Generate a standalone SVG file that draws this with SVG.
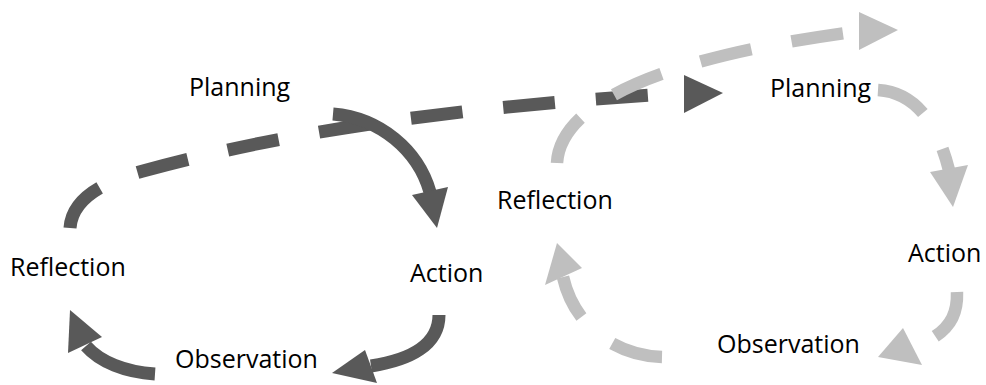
<svg xmlns="http://www.w3.org/2000/svg" width="986" height="385" viewBox="0 0 986 385">
<style>
.lbl{font-family:"Open Sans","Liberation Sans",sans-serif;font-size:25px;fill:#000}
.dk{fill:none;stroke:#595959;stroke-width:13}
.lt{fill:none;stroke:#BFBFBF;stroke-width:12.5}
.dash{stroke-dasharray:52 41}
.dkh{fill:#595959}
.lth{fill:#BFBFBF}
</style>
<rect width="986" height="385" fill="#fff"/>
<g id="connectors">
<g id="left-cycle">
<path class="dk dash" d="M70,228 C72,200 100,183 143,171 C250,142 400,110 685,93"/>
<polygon class="dkh" points="684,75 723,93 684,113"/>
<path class="dk" d="M333,114 C380,118 418,150 430,192"/>
<polygon class="dkh" points="412,195 448,187 437,228"/>
<path class="dk" d="M439,315 C439,345 410,360 371,366"/>
<polygon class="dkh" points="365,350 377,383 332,373"/>
<path class="dk" d="M155,374 C125,372 100,362 86,346"/>
<polygon class="dkh" points="68,353 102,337 70,310"/>
</g>
<g id="right-cycle">
<path class="lt dash" d="M557,163 C560,110 640,60 860,31"/>
<polygon class="lth" points="859,12 898,30 859,50"/>
<path class="lt dash" d="M878,90 C910,92 935,115 949,170"/>
<polygon class="lth" points="930,172 968,165 953,207"/>
<path class="lt dash" d="M957,292 C958,320 945,335 912,348"/>
<polygon class="lth" points="903,328 922,365 878,357"/>
<path class="lt dash" d="M662,357 C620,356 575,330 563,277"/>
<polygon class="lth" points="545,285 582,268 557,243"/>
</g>
</g>
<g id="left-planning"><text class="lbl" x="189" y="96">Planning</text></g>
<g id="left-action"><text class="lbl" x="410" y="282">Action</text></g>
<g id="left-observation"><text class="lbl" x="175" y="368">Observation</text></g>
<g id="left-reflection"><text class="lbl" x="10" y="276">Reflection</text></g>
<g id="right-planning"><text class="lbl" x="770" y="97">Planning</text></g>
<g id="right-action"><text class="lbl" x="908" y="262">Action</text></g>
<g id="right-observation"><text class="lbl" x="717" y="353">Observation</text></g>
<g id="right-reflection"><text class="lbl" x="497" y="209">Reflection</text></g>
</svg>
